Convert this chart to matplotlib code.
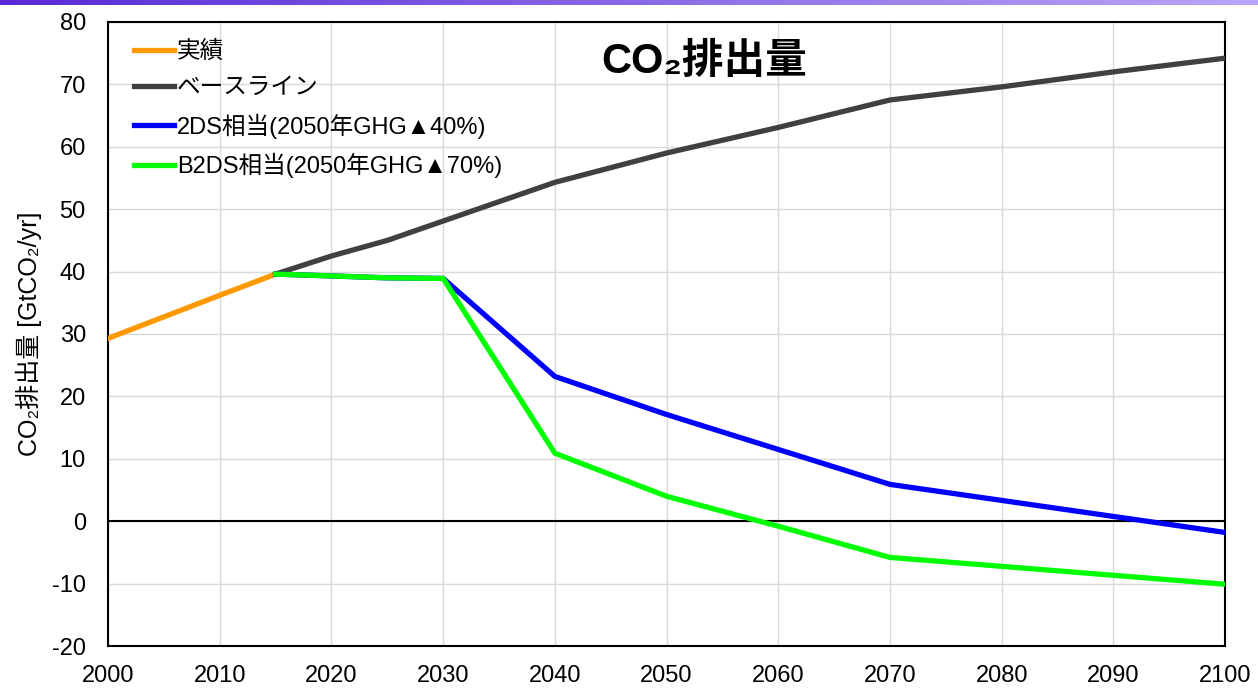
import numpy as np
import matplotlib.pyplot as plt
from matplotlib.colors import LinearSegmentedColormap

plt.rcParams['font.family'] = ['Liberation Sans', 'Noto Sans CJK JP', 'DejaVu Sans']
plt.rcParams['axes.unicode_minus'] = False

# 実績
years_hist = [2000, 2010, 2015]
co2_hist = [29.3, 36.2, 39.6]

# ベースライン
years_base = [2015, 2020, 2025, 2030, 2040, 2050, 2060, 2070, 2080, 2090, 2100]
co2_base = [39.6, 42.5, 45.0, 48.1, 54.3, 59.0, 63.1, 67.5, 69.6, 72.0, 74.2]

# 2DS / B2DS
years_sc = [2015, 2020, 2025, 2030, 2040, 2050, 2060, 2070, 2100]
co2_2ds = [39.6, 39.3, 39.0, 38.9, 23.2, 17.1, 11.5, 5.9, -1.8]
co2_b2ds = [39.6, 39.3, 39.0, 38.9, 10.9, 4.0, -0.8, -5.8, -10.1]

labels = ['実績', 'ベースライン', '2DS相当(2050年GHG▲40%)', 'B2DS相当(2050年GHG▲70%)']
colors = ['#ff9900', '#404040', '#0000ff', '#00ff00']

fig = plt.figure(figsize=(12.58, 6.91), dpi=100)

# purple band along the top edge
band = fig.add_axes([0, 0.993, 1, 0.007])
grad = np.linspace(0, 1, 256).reshape(1, -1)
cmap = LinearSegmentedColormap.from_list('band', ['#5a2ad6', '#b9a6f6'])
band.imshow(grad, aspect='auto', cmap=cmap)
band.axis('off')

ax = fig.add_axes([0.0859, 0.0651, 0.8879, 0.9031])
lw = 3.8
ax.plot(years_hist, co2_hist, color=colors[0], lw=lw, label=labels[0], zorder=3)
ax.plot(years_base, co2_base, color=colors[1], lw=lw, label=labels[1], zorder=3)
ax.plot(years_sc, co2_2ds, color=colors[2], lw=lw, label=labels[2], zorder=3)
ax.plot(years_sc, co2_b2ds, color=colors[3], lw=lw, label=labels[3], zorder=4)

ax.axhline(0, color='black', lw=1.5, zorder=2)

ax.set_xlim(2000, 2100)
ax.set_ylim(-20, 80)
ax.set_xticks(np.arange(2000, 2101, 10))
ax.set_yticks(np.arange(-20, 81, 10))
ax.grid(True, color='#d9d9d9', lw=1)
ax.set_axisbelow(True)
ax.tick_params(length=0, labelsize=17)
ax.tick_params(axis='y', pad=16)
ax.tick_params(axis='x', pad=14)
for sp in ax.spines.values():
    sp.set_linewidth(1.5)
    sp.set_color('black')

ax.set_ylabel('CO₂排出量 [GtCO₂/yr]', fontsize=18, labelpad=7)

ax.text(0.534, 0.936, 'CO₂排出量', transform=ax.transAxes, ha='center', va='center',
        fontsize=30, fontweight='bold')

leg = ax.legend(loc='upper left', frameon=False, fontsize=17, handlelength=1.7,
                handletextpad=0.1, labelspacing=0.6, borderaxespad=0.0,
                bbox_to_anchor=(0.015, 0.985))

fig.savefig('out.png', dpi=100)
